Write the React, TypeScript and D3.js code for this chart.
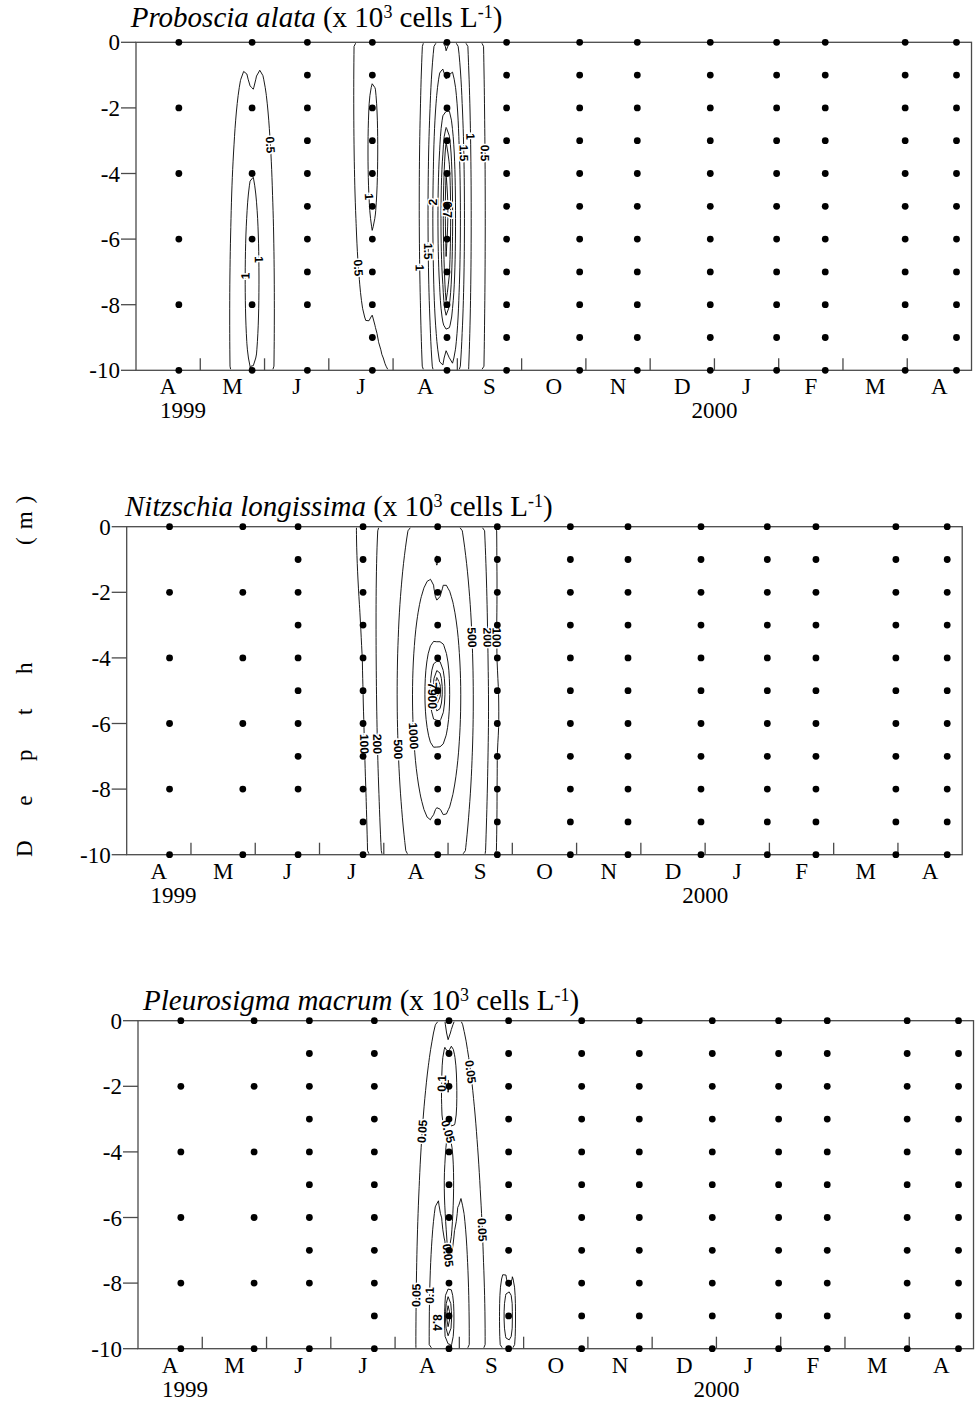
import React, { useMemo } from 'react';
import * as d3 from 'd3';

// ---------------- DATA ----------------
const stationDates = [
  '1999-04-21', '1999-05-26', '1999-06-21', '1999-07-22', '1999-08-27', '1999-09-24',
  '1999-10-29', '1999-11-25', '1999-12-30', '2000-01-31', '2000-02-22', '2000-03-31', '2000-04-24',
];
const N = null;
const Z = [0, 0, 0, 0, 0, 0, 0, 0, 0, 0, 0];
const ZE = [0, N, 0, N, 0, N, 0, N, 0, N, 0]; // even depths only
const Z9 = [0, 0, 0, 0, 0, 0, 0, 0, 0, N, 0]; // no 9 m sample

// values per station, index = depth (m); null = not sampled
const alataValues = [
  [0.4, N, 0.4, N, 0.4, N, 0.4, N, 0.4, N, 0.35],
  [0.35, N, 0.55, N, 1.0, N, 1.45, N, 1.45, N, 0.95],
  [0.35, 0.35, 0.3, 0.3, 0.3, 0.3, 0.3, 0.3, 0.3, N, 0.25],
  [0.85, 0.95, 1.15, 1.25, 1.25, 1.15, 0.95, 0.8, 0.55, 0.4, 0.3],
  [1.3, 1.9, 2.6, 5.5, 6.2, 6.7, 6.3, 6.0, 5.5, 2.3, 1.4],
  [0.2, 0.2, 0.2, 0.2, 0.2, 0.2, 0.2, 0.2, 0.2, 0.2, 0.2],
  Z, Z, Z, Z, Z, Z, Z,
];
const longissimaValues = [
  ZE, ZE, Z9,
  [130, 125, 118, 110, 103, 100, 95, 90, 85, 80, 75],
  [800, 1050, 850, 1500, 2600, 7900, 2600, 1800, 1300, 800, 1050],
  [95, 96, 97, 94, 95, 108, 110, 98, 97, 96, 92],
  Z, Z, Z, Z, Z, Z, Z,
];
const macrumValues = [
  ZE, ZE, Z9, Z,
  [0, 0.07, 1.0, 0.06, 0, 0, 0, 0.02, 0.12, 8.4, 0.15],
  [0, 0, 0, 0, 0, 0, 0, 0, 0, 0.6, 0],
  Z, Z, Z, Z, Z, Z, Z,
];

const alataLevels = [0.5, 1, 1.5, 2, 3, 4, 5, 6];
const longissimaLevels = [100, 200, 500, 1000, 2000, 3000, 4000, 5000, 6000, 7000];
const macrumLevels = [0.05, 0.1, 0.5, 1, 2, 3, 4, 5, 6, 7, 8];

// contour label anchors (month index from 1 Apr 1999, depth m)
const alataLabels = [
  { level: 0.5, m: 2.27, d: 3.0 }, { level: 1, m: 1.59, d: 7.0 }, { level: 1, m: 2.07, d: 6.5 },
  { level: 0.5, m: 3.46, d: 6.95 }, { level: 1, m: 3.64, d: 4.76 }, { level: 1, m: 4.23, d: 6.84 },
  { level: 1.5, m: 4.49, d: 6.43 }, { level: 2, m: 4.57, d: 4.86 }, { level: 1.5, m: 5.12, d: 3.38 },
  { level: 1, m: 5.27, d: 2.93 }, { level: 0.5, m: 5.45, d: 3.49 },
];
const longissimaLabels = [
  { level: 100, m: 3.84, d: 6.7 }, { level: 200, m: 4.02, d: 6.6 }, { level: 500, m: 4.39, d: 6.7 },
  { level: 1000, m: 4.61, d: 6.4 }, { level: 500, m: 5.29, d: 3.4 }, { level: 200, m: 5.58, d: 3.3 },
  { level: 100, m: 5.81, d: 3.3 },
];
const macrumLabels = [
  { level: 0.05, m: 4.57, d: 3.4 }, { level: 0.05, m: 5.07, d: 1.5 }, { level: 0.1, m: 4.83, d: 1.9 },
  { level: 0.05, m: 4.83, d: 3.5 }, { level: 0.05, m: 5.19, d: 6.4 }, { level: 0.05, m: 4.51, d: 8.3 },
  { level: 0.1, m: 4.7, d: 8.4 }, { level: 0.05, m: 4.89, d: 7.6 },
];
const maxAnchors = [{ m: 4.84, d: 5.1 }, { m: 4.75, d: 5.15 }, { m: 4.65, d: 9.2 }];

const monthLabels = ['A', 'M', 'J', 'J', 'A', 'S', 'O', 'N', 'D', 'J', 'F', 'M', 'A'];
const yearLabels = [{ text: '1999', m: 0.73 }, { text: '2000', m: 9.0 }];
const depthTicks = [0, 2, 4, 6, 8, 10];
const speciesNames = ['Proboscia alata', 'Nitzschia longissima', 'Pleurosigma macrum'];

// gridding parameters (simple kriging of log1p(v/c), exponential covariance)
// c: log offset; lx: range along time (months); lz: range along depth (m)
const gridParams = [
  { c: 1, lx: 0.45, lz: 15 },
  { c: 500, lx: 0.6, lz: 7 },
  { c: 0.2, lx: 0.45, lz: 12 },
];

// ---------------- HELPERS ----------------
function monthPos(s: string): number {
  const [y, m, d] = s.split('-').map(Number);
  const dim = new Date(y, m, 0).getDate();
  return (y - 1999) * 12 + (m - 4) + (d - 1) / dim;
}
const stationMonths = stationDates.map(monthPos);

type Pt = { m: number; d: number; v: number };
type GP = { c: number; lx: number; lz: number };

function krige(points: Pt[], p: GP, nx: number, ny: number) {
  const n = points.length;
  const X = points.map(q => q.m / p.lx);
  const Zc = points.map(q => q.d / p.lz);
  const Y = points.map(q => Math.log1p(Math.max(0, q.v) / p.c));
  const L = new Float64Array(n * n);
  for (let i = 0; i < n; i++) {
    for (let j = 0; j <= i; j++) {
      const dx = X[i] - X[j], dz = Zc[i] - Zc[j];
      let s = Math.exp(-Math.sqrt(dx * dx + dz * dz)) + (i === j ? 1e-8 : 0);
      for (let k = 0; k < j; k++) s -= L[i * n + k] * L[j * n + k];
      L[i * n + j] = i === j ? Math.sqrt(s) : s / L[j * n + j];
    }
  }
  const u = new Float64Array(n);
  for (let i = 0; i < n; i++) {
    let s = Y[i];
    for (let k = 0; k < i; k++) s -= L[i * n + k] * u[k];
    u[i] = s / L[i * n + i];
  }
  const a = new Float64Array(n);
  for (let i = n - 1; i >= 0; i--) {
    let s = u[i];
    for (let k = i + 1; k < n; k++) s -= L[k * n + i] * a[k];
    a[i] = s / L[i * n + i];
  }
  const grid: number[] = new Array(nx * ny);
  for (let j = 0; j < ny; j++) {
    const z = ((j + 0.5) / ny) * 10 / p.lz;
    for (let i = 0; i < nx; i++) {
      const x = ((i + 0.5) / nx) * 13 / p.lx;
      let f = 0;
      for (let k = 0; k < n; k++) {
        const dx = x - X[k], dz = z - Zc[k];
        f += a[k] * Math.exp(-Math.sqrt(dx * dx + dz * dz));
      }
      grid[j * nx + i] = p.c * Math.expm1(f);
    }
  }
  return grid;
}

const NX = 260, NY = 40;
const MONTH_W = 64.27;
const PW = MONTH_W * 13;
const PH = 328;
const serif = '"Liberation Serif", "Times New Roman", Times, serif';
const sans = '"Liberation Sans", Arial, Helvetica, sans-serif';

type PanelProps = {
  idx: number; left: number; top: number; titleX: number; titleY: number;
  values: (number | null)[][]; levels: number[];
  labels: { level: number; m: number; d: number }[];
  grid: GP;
};

function Panel({ idx, left, top, titleX, titleY, values, levels, labels, grid }: PanelProps) {
  const x = d3.scaleLinear().domain([0, 13]).range([left, left + PW]);
  const y = d3.scaleLinear().domain([0, 10]).range([top, top + PH]);
  const bottom = top + PH;

  const { contours, points, maxPt } = useMemo(() => {
    const pts: Pt[] = [];
    values.forEach((col, si) => col.forEach((v, d) => {
      if (v !== null) pts.push({ m: stationMonths[si], d, v });
    }));
    const g = krige(pts, grid, NX, NY);
    const cs = d3.contours().size([NX, NY]).thresholds(levels)(g);
    const mp = pts.reduce((a, b) => (b.v > a.v ? b : a), pts[0]);
    return { contours: cs, points: pts, maxPt: mp };
  }, [values, levels, grid]);

  const gx = (c: number) => left + (c / NX) * PW;
  const gy = (c: number) => top + (c / NY) * PH;

  const paths = contours.map((mp: any) => {
    let dstr = '';
    for (const poly of mp.coordinates) for (const ring of poly) {
      dstr += 'M' + ring.map(([a, b]: number[]) => `${gx(a).toFixed(2)},${gy(b).toFixed(2)}`).join('L') + 'Z';
    }
    return { value: mp.value, d: dstr };
  });

  const placed = labels.map((lb) => {
    const cs: any = contours.find((c: any) => Math.abs(c.value - lb.level) < 1e-9);
    if (!cs) return null;
    const ax = x(lb.m), ay = y(lb.d);
    let best: any = null;
    for (const poly of cs.coordinates) for (const ring of poly) {
      for (let i = 0; i < ring.length; i++) {
        const [a, b] = ring[i];
        if (a <= 0.01 || a >= NX - 0.01 || b <= 0.01 || b >= NY - 0.01) continue;
        const px = gx(a), py = gy(b);
        const dist = Math.hypot(px - ax, py - ay);
        if (!best || dist < best.dist) {
          const p0 = ring[(i - 2 + ring.length) % ring.length], p1 = ring[(i + 2) % ring.length];
          let ang = Math.atan2(gy(p1[1]) - gy(p0[1]), gx(p1[0]) - gx(p0[0])) * 180 / Math.PI;
          if (ang > 90) ang -= 180;
          if (ang <= -90) ang += 180;
          best = { dist, px, py, ang };
        }
      }
    }
    if (!best || best.dist > 45) return null;
    return { text: String(lb.level), ...best };
  }).filter(Boolean) as any[];

  const maxA = maxAnchors[idx];
  const clipId = `clip${idx}`;
  const tFont = 29;

  return (
    <g>
      <defs>
        <clipPath id={clipId}>
          <rect x={left + 1} y={top + 1} width={PW - 2} height={PH - 2} />
        </clipPath>
      </defs>
      {/* title */}
      <text x={titleX} y={titleY} fontFamily={serif} fontSize={tFont} fill="#000">
        <tspan fontStyle="italic">{speciesNames[idx]}</tspan>
        <tspan> (x 10</tspan>
        <tspan fontSize={tFont * 0.62} dy={-tFont * 0.3}>3</tspan>
        <tspan dy={tFont * 0.3}> cells L</tspan>
        <tspan fontSize={tFont * 0.62} dy={-tFont * 0.3}>-1</tspan>
        <tspan dy={tFont * 0.3}>)</tspan>
      </text>
      {/* contours */}
      <g clipPath={`url(#${clipId})`} fill="none" stroke="#000" strokeWidth={0.9}>
        {paths.map((p, i) => <path key={i} d={p.d} />)}
      </g>
      {/* contour labels */}
      <g fontFamily={sans} fontWeight="bold" fontSize={12} textAnchor="middle">
        {placed.map((p, i) => (
          <text key={i} transform={`translate(${p.px.toFixed(1)},${p.py.toFixed(1)}) rotate(${p.ang.toFixed(1)})`}
            dy="0.35em" fill="#000" stroke="#fff" strokeWidth={3} paintOrder="stroke">{p.text}</text>
        ))}
        <text transform={`translate(${x(maxA.m).toFixed(1)},${y(maxA.d).toFixed(1)}) rotate(90)`}
          dy="0.35em" fill="#000" stroke="#fff" strokeWidth={3} paintOrder="stroke">{String(maxPt.v)}</text>
      </g>
      {/* frame */}
      <g stroke="#4a4a4a" strokeWidth={1.3} fill="none">
        <rect x={left} y={top} width={PW} height={PH} />
        {depthTicks.map(t => <line key={t} x1={left - 15} x2={left} y1={y(t)} y2={y(t)} />)}
        {d3.range(1, 13).map(k => <line key={k} x1={x(k)} x2={x(k)} y1={bottom} y2={bottom - 12} />)}
      </g>
      {/* y tick labels */}
      <g fontFamily={serif} fontSize={23} textAnchor="end" fill="#000">
        {depthTicks.map(t => <text key={t} x={left - 16} y={y(t)} dy="0.35em">{t === 0 ? '0' : `-${t}`}</text>)}
      </g>
      {/* month labels */}
      <g fontFamily={serif} fontSize={23} textAnchor="middle" fill="#000">
        {monthLabels.map((m, k) => <text key={k} x={x(k + 0.5)} y={bottom + 24}>{m}</text>)}
        {yearLabels.map((yl, k) => <text key={k} x={x(yl.m)} y={bottom + 48}>{yl.text}</text>)}
      </g>
      {/* sample points */}
      <g fill="#000">
        {points.map((p, i) => <circle key={i} cx={x(p.m)} cy={y(p.d)} r={3.4} />)}
      </g>
    </g>
  );
}

export default function App() {
  return (
    <svg width={975} height={1402} style={{ position: 'absolute', left: 0, top: 0, background: '#fff' }}
      xmlns="http://www.w3.org/2000/svg">
      <rect x={0} y={0} width={975} height={1402} fill="#fff" />
      <Panel idx={0} left={136} top={42.3} titleX={130.7} titleY={27} values={alataValues}
        levels={alataLevels} labels={alataLabels} grid={gridParams[0]} />
      <Panel idx={1} left={126.7} top={526.7} titleX={125} titleY={516} values={longissimaValues}
        levels={longissimaLevels} labels={longissimaLabels} grid={gridParams[1]} />
      <Panel idx={2} left={138} top={1020.7} titleX={143} titleY={1010} values={macrumValues}
        levels={macrumLevels} labels={macrumLabels} grid={gridParams[2]} />
      <g fontFamily={serif} fontSize={23} fill="#000">
        <text transform="translate(32,857) rotate(-90)" letterSpacing={14.4}>D e p t h</text>
        <text transform="translate(32,545) rotate(-90)" letterSpacing={8}>(m)</text>
      </g>
    </svg>
  );
}
